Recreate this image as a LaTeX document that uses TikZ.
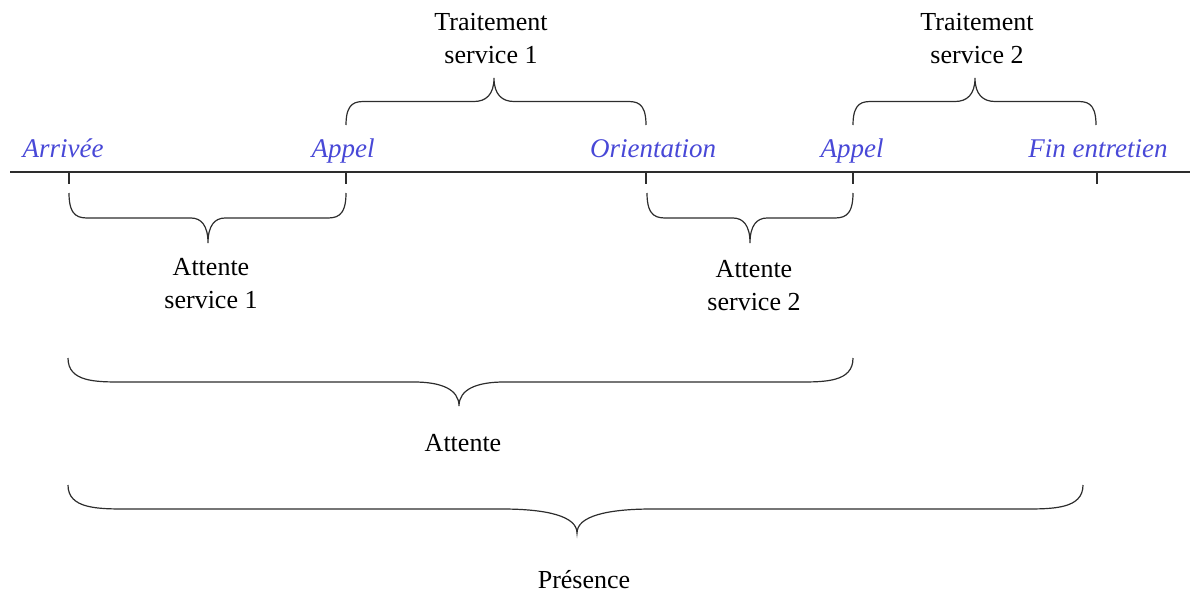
\documentclass[tikz,border=0pt]{standalone}
\usepackage{fontspec}
\setmainfont{Liberation Serif}
\definecolor{evtblue}{RGB}{72,72,215}
\definecolor{linegray}{RGB}{45,45,45}
\tikzset{
  lbl/.style={font=\fontsize{26}{33}\selectfont, align=center, anchor=base, inner sep=0pt},
  evt/.style={font=\itshape\fontsize{27}{30}\selectfont, text=evtblue, anchor=base, inner sep=0pt},
  ln/.style={line width=1.2pt, draw=linegray},
}
% x1, x2, xm, y0, h, r, s
\newcommand\cbrace[7]{%
  \draw[ln] (#1,#4) .. controls (#1,{#4+0.5*#5}) and ({#1+0.5*#6},{#4+0.5*#5}) .. ({#1+#6},{#4+0.5*#5})
    -- ({#3-#7},{#4+0.5*#5}) .. controls ({#3-0.4*#7},{#4+0.5*#5}) and (#3,{#4+0.65*#5}) .. (#3,{#4+#5})
    .. controls (#3,{#4+0.65*#5}) and ({#3+0.4*#7},{#4+0.5*#5}) .. ({#3+#7},{#4+0.5*#5})
    -- ({#2-#6},{#4+0.5*#5}) .. controls ({#2-0.5*#6},{#4+0.5*#5}) and (#2,{#4+0.5*#5}) .. (#2,#4);}
\begin{document}
\begin{tikzpicture}[x=1pt,y=-1pt]
\useasboundingbox (0,0) rectangle (1190,592);
% timeline
\coordinate (tl0) at (10,172);
\coordinate (tl1) at (1190,172);
\draw[ln] (tl0) -- (tl1);
% ticks
\foreach \n/\x in {arr/69, ap1/346, ori/646, ap2/853, fin/1097}{
  \coordinate (\n) at (\x,172);
  \coordinate (\n b) at (\x,184);
  \draw[ln] (\n) -- (\n b);
}
% event labels
\node[evt] (larr) at (63,157) {Arrivée};
\node[evt] (lap1) at (343,157) {Appel};
\node[evt] (lori) at (653,157) {Orientation};
\node[evt] (lap2) at (852,157) {Appel};
\node[evt] (lfin) at (1098,157) {Fin entretien};
% braces
\cbrace{346}{646}{494}{125}{-47}{20}{20}
\cbrace{853}{1096}{975}{125}{-47}{20}{20}
\cbrace{69}{346}{208}{193}{50}{21}{17}
\cbrace{647}{853}{750}{193}{50}{21}{17}
\cbrace{68}{853}{459}{358}{48}{55}{45}
\cbrace{68}{1083}{577}{485}{48}{60}{75}
% labels (anchor base = baseline of last line)
\node[lbl] (t1) at (491,63) {Traitement\\service 1};
\node[lbl] (t2) at (977,63) {Traitement\\service 2};
\node[lbl] (a1) at (211,308) {Attente\\service 1};
\node[lbl] (a2) at (754,310) {Attente\\service 2};
\node[lbl] (at) at (463,451) {Attente};
\node[lbl] (pr) at (584,588) {Présence};
\end{tikzpicture}
\end{document}
